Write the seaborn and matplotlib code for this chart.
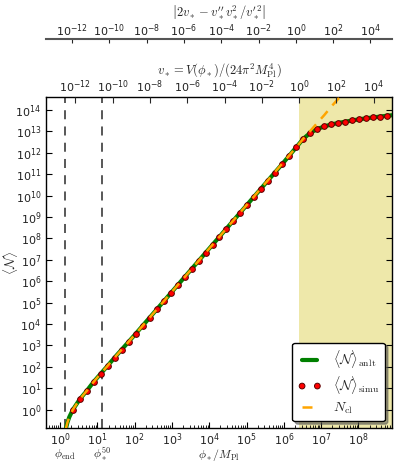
import numpy as np
import matplotlib
matplotlib.use("Agg")
import matplotlib.pyplot as plt
import matplotlib.transforms as mtransforms
from matplotlib import ticker
import seaborn as sns

# log10(phi_*/M_Pl) of the simulated points
phi_simu_log = [
    0.340, 0.527, 0.715, 0.902, 1.090, 1.277, 1.464, 1.652, 1.839, 2.027,
    2.214, 2.401, 2.589, 2.776, 2.964, 3.151, 3.338, 3.526, 3.713, 3.901,
    4.088, 4.275, 4.463, 4.650, 4.838, 5.025, 5.212, 5.400, 5.587, 5.775,
    5.962, 6.149, 6.337, 6.524, 6.712, 6.899, 7.086, 7.274, 7.461, 7.649,
    7.836, 8.023, 8.211, 8.398, 8.586, 8.773,
]
# log10 <N>_simu
n_simu_log = [
    -0.02, 0.48, 0.88, 1.29, 1.67, 2.05, 2.42, 2.79, 3.17, 3.54,
    3.91, 4.29, 4.68, 5.05, 5.43, 5.80, 6.18, 6.56, 6.94, 7.32,
    7.69, 8.06, 8.44, 8.82, 9.20, 9.57, 9.94, 10.31, 10.69, 11.07,
    11.47, 11.87, 12.27, 12.65, 12.93, 13.11, 13.23, 13.32, 13.39, 13.45,
    13.51, 13.56, 13.61, 13.65, 13.69, 13.73,
]

# analytic <N>
phi_anlt_log = [0.16, 0.20, 0.25, 0.30, 0.34, 0.53, 0.72, 0.90, 1.09, 1.28,
                1.46, 2.03, 3.0, 4.0, 5.0, 6.0, 6.34, 6.52, 6.71, 6.90,
                7.09, 7.27, 7.46, 7.65, 7.84, 8.02, 8.21, 8.40, 8.59, 8.77, 8.90]
n_anlt_log = [-0.88, -0.60, -0.35, -0.17, -0.02, 0.48, 0.88, 1.29, 1.67, 2.05,
              2.42, 3.54, 5.50, 7.52, 9.54, 11.56, 12.27, 12.65, 12.93, 13.11,
              13.23, 13.32, 13.39, 13.45, 13.51, 13.56, 13.61, 13.65, 13.69, 13.73, 13.75]

# classical N
phi_cl_log = [0.16, 0.20, 0.25, 0.30, 0.34, 0.53, 0.72, 0.90, 1.09, 1.28,
              1.46, 2.03, 4.0, 6.34, 6.52, 6.71, 6.90, 7.09, 7.27, 7.46, 7.65]
n_cl_log = [-0.88, -0.60, -0.35, -0.17, -0.02, 0.48, 0.88, 1.29, 1.67, 2.05,
            2.42, 3.54, 7.52, 12.27, 12.65, 13.02, 13.40, 13.77, 14.15, 14.52, 14.90]

phi_marks_log = [0.14, 1.13]
phi_marks_text = [r"$\phi_{\rm end}$", r"$\phi_*^{50}$"]
phi_v1_log = 6.41  # v_* = 1
phi_ticks_exp = [0, 1, 2, 3, 4, 5, 6, 7, 8]
n_ticks_exp = list(range(0, 15))
v_ticks_exp = [-12, -10, -8, -6, -4, -2, 0, 2, 4]

x_lim_log = (-0.375, 8.90)
y_lim_log = (-0.878, 14.617)

sns.set_style("ticks")
plt.rcParams["mathtext.fontset"] = "cm"
plt.rcParams["font.family"] = ["DejaVu Sans"]

fig = plt.figure(figsize=(3.99, 4.65), dpi=100)
ax = fig.add_axes([0.1153, 0.0789, 0.8672, 0.7131])
ax.set_xscale("log")
ax.set_yscale("log")

ax.axvspan(10 ** phi_v1_log, 10 ** 9.5, color="#eee8aa", zorder=0, lw=0)
for p in phi_marks_log:
    ax.axvline(10 ** p, color="#4a4a4a", ls=(0, (5, 4)), lw=1.3, zorder=1)

sns.lineplot(
    x=10 ** np.array(phi_anlt_log),
    y=10 ** np.array(n_anlt_log),
    color="green",
    lw=3,
    sort=False,
    estimator=None,
    ax=ax,
    label=r"$\langle\mathcal{N}\rangle_{\rm anlt}$",
    zorder=2,
)
sns.scatterplot(
    x=10 ** np.array(phi_simu_log),
    y=10 ** np.array(n_simu_log),
    color="red",
    edgecolor="#5a0000",
    linewidth=0.7,
    s=17,
    ax=ax,
    label=r"$\langle\mathcal{N}\rangle_{\rm simu}$",
    zorder=3,
)
sns.lineplot(
    x=10 ** np.array(phi_cl_log),
    y=10 ** np.array(n_cl_log),
    color="orange",
    lw=1.8,
    ls=(0, (4, 3)),
    sort=False,
    estimator=None,
    ax=ax,
    label=r"$N_{\rm cl}$",
    zorder=4,
)

ax.set_xlim(10 ** x_lim_log[0], 10 ** x_lim_log[1])
ax.set_ylim(10 ** y_lim_log[0], 10 ** y_lim_log[1])
ax.xaxis.set_major_locator(ticker.FixedLocator([10.0 ** e for e in phi_ticks_exp]))
ax.xaxis.set_minor_locator(ticker.LogLocator(base=10, subs=np.arange(2, 10), numticks=30))
ax.xaxis.set_minor_formatter(ticker.NullFormatter())
ax.xaxis.set_major_formatter(ticker.LogFormatterSciNotation())
ax.yaxis.set_major_locator(ticker.FixedLocator([10.0 ** e for e in n_ticks_exp]))
ax.yaxis.set_major_formatter(ticker.LogFormatterSciNotation())
ax.yaxis.set_minor_locator(ticker.NullLocator())
ax.tick_params(which="both", direction="in", top=False, right=True,
               labelsize=8, color="black", labelcolor="#222222")
ax.tick_params(which="major", length=4)
ax.tick_params(which="minor", length=2)
ax.tick_params(axis="x", pad=2)
for s in ax.spines.values():
    s.set_linewidth(1.0)
    s.set_color("black")
ax.set_xlabel("")
ax.set_ylabel("")

ax.legend(loc="lower right", numpoints=2, scatterpoints=2, scatteryoffsets=[0.5],
          fancybox=True, shadow=True, framealpha=1, edgecolor="black",
          fontsize=10, handlelength=1.7, labelspacing=0.3, borderpad=0.4)

blend = mtransforms.blended_transform_factory(ax.transData, ax.transAxes)
for p, t in zip(phi_marks_log, phi_marks_text):
    ax.text(10 ** p, -0.080, t, transform=blend, ha="center", va="center", fontsize=8.5)
ax.text(0.5, -0.080, r"$\phi_*/M_{\rm Pl}$", transform=ax.transAxes,
        ha="center", va="center", fontsize=8.5)
ax.text(-0.103, 0.5, r"$\langle\mathcal{N}\rangle$", transform=ax.transAxes,
        ha="center", va="center", rotation=90, fontsize=9.5)

# v_* axis
v_lim = (10 ** (2 * (x_lim_log[0] - phi_v1_log)), 10 ** (2 * (x_lim_log[1] - phi_v1_log)))
axv = ax.twiny()
axv.set_xscale("log")
axv.set_xlim(*v_lim)
axv.xaxis.set_major_locator(ticker.FixedLocator([10.0 ** e for e in v_ticks_exp]))
axv.xaxis.set_minor_locator(ticker.NullLocator())
axv.xaxis.set_major_formatter(ticker.LogFormatterSciNotation())
axv.tick_params(which="major", direction="in", length=4, labelsize=8,
                labelcolor="#222222", pad=1)
for s in axv.spines.values():
    s.set_visible(False)

# |2v - v'' v^2 / v'^2| axis
axc = ax.twiny()
axc.set_xscale("log")
axc.set_xlim(1.5 * v_lim[0], 1.5 * v_lim[1])
axc.xaxis.set_major_locator(ticker.FixedLocator([10.0 ** e for e in v_ticks_exp]))
axc.xaxis.set_minor_locator(ticker.NullLocator())
axc.xaxis.set_major_formatter(ticker.LogFormatterSciNotation())
axc.tick_params(which="major", direction="in", length=3, labelsize=8,
                labelcolor="#222222", pad=0)
for k in ["left", "right", "bottom"]:
    axc.spines[k].set_visible(False)
axc.spines["top"].set_position(("outward", 41.5))
axc.spines["top"].set_linewidth(1.5)
axc.spines["top"].set_color("#555555")

fig.text(0.549, 1 - 71 / 465, r"$v_* = V(\phi_*)/(24\pi^2 M_{\rm Pl}^4)$",
         ha="center", va="center", fontsize=9)
fig.text(0.549, 1 - 13 / 465,
         r"$\left|2v_* - v^{\prime\prime}_* v_*^2/v^{\prime\,2}_*\right|$",
         ha="center", va="center", fontsize=9)

fig.savefig("out.png", dpi=100)
